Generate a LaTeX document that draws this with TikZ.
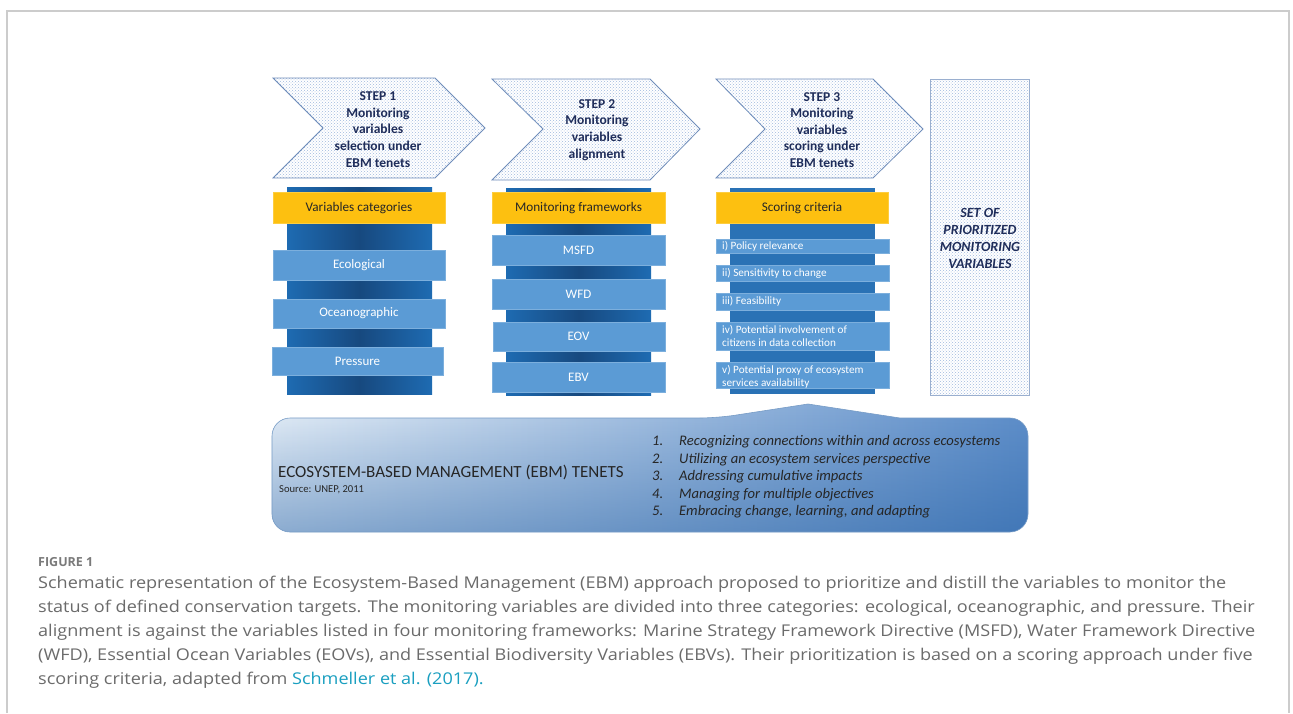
\documentclass[tikz,border=0pt]{standalone}
\usepackage{fontspec}
\setmainfont{Carlito}
\newfontfamily\capfont[FakeStretch=1.115]{Open Sans}
\newfontfamily\figfont{Open Sans}
\usetikzlibrary{patterns,fadings}
\definecolor{navy}{HTML}{1F2D5A}
\definecolor{gold}{HTML}{FDC010}
\definecolor{barblue}{HTML}{5B9BD5}
\definecolor{colblue}{HTML}{1E6BB2}
\definecolor{coldark}{HTML}{17497F}
\definecolor{col3blue}{HTML}{2A72B5}
\definecolor{dotblue}{HTML}{9FB9DE}
\definecolor{chevedge}{HTML}{6F8DBA}
\definecolor{capgray}{HTML}{6B6B6B}
\definecolor{linkteal}{HTML}{1A9FC0}
\definecolor{framegray}{HTML}{CCCCCC}
\definecolor{ebmlight}{HTML}{E6EFF8}
\definecolor{ebmmid}{HTML}{AEC8E6}
\definecolor{ebmright}{HTML}{5F8FCA}
\definecolor{ebmdark}{HTML}{1D5AA0}
\tikzfading[name=ebmfade, top color=transparent!100, bottom color=transparent!55]
\tikzset{
  chev/.style={preaction={fill=white}, pattern=crosshatch dots, pattern color=dotblue, draw=chevedge, line width=0.8pt},
  steptext/.style={align=center, text=navy, font=\bfseries\fontsize{13.5}{16.6}\selectfont, inner sep=0pt},
  head/.style={fill=gold, draw=gold!80!white, line width=0.5pt},
  headtext/.style={text=black!85, font=\fontsize{13.2}{16}\selectfont, inner sep=0pt},
  bar/.style={fill=barblue, draw=barblue!80!white, line width=0.6pt},
  bartext/.style={text=white, font=\fontsize{13}{15}\selectfont, inner sep=0pt},
  crittext/.style={text=white, font=\fontsize{11.2}{13.2}\selectfont, inner sep=0pt, align=left, anchor=west},
  listtext/.style={text=black!85, font=\itshape\fontsize{14.6}{16}\selectfont, inner sep=0pt, anchor=base west},
  captext/.style={text=capgray, font=\capfont\fontsize{16.2}{20}\selectfont, inner sep=0pt, anchor=base west},
}
\begin{document}
\begin{tikzpicture}[x=1pt,y=-1pt]
\useasboundingbox (0,0) rectangle (1293,713);
\fill[white] (0,0) rectangle (1293,713);
% frame
\draw[framegray, line width=1.2pt] (7,713) -- (7,11) -- (1289,11) -- (1289,713);

% chevrons
\path[chev] (273,78) -- (435,78) -- (485,128) -- (435,178) -- (273,178) -- (323,128) -- cycle;
\path[chev] (492,79) -- (650,79) -- (700,129) -- (650,180) -- (492,180) -- (543,129) -- cycle;
\path[chev] (716,79) -- (873,79) -- (923,129) -- (873,178) -- (716,178) -- (765,129) -- cycle;
\node[steptext] (s1) at (378,129.5) {STEP 1\\Monitoring\\variables\\selection under\\EBM tenets};
\node[steptext] (s2) at (597,130) {STEP 2\\Monitoring\\variables\\alignment};
\node[steptext] (s3) at (822,130) {STEP 3\\Monitoring\\variables\\scoring under\\EBM tenets};

% set box
\path[chev, draw=chevedge!70!white] (930,79) rectangle (1029,395);
\node[steptext, font=\bfseries\itshape\fontsize{14}{17}\selectfont] (set) at (980,238) {SET OF\\PRIORITIZED\\MONITORING\\VARIABLES};

% column backings
\shade[left color=colblue, right color=colblue, middle color=coldark] (287,187) rectangle (432,394);
\shade[left color=colblue, right color=colblue, middle color=coldark] (506,188) rectangle (651,395);
\fill[col3blue] (730,188) rectangle (875,394);

% column 1
\path[head] (273,192) rectangle (445,223);
\node[headtext] (h1) at (359,208) {Variables categories};
\path[bar] (273,250) rectangle (445,280);
\node[bartext] (eco) at (359,265) {Ecological};
\path[bar] (273,299) rectangle (445,328);
\node[bartext] (oce) at (359,313.5) {Oceanographic};
\path[bar] (272,347) rectangle (443,375);
\node[bartext] (pre) at (357.5,361) {Pressure};

% column 2
\path[head] (492,192) rectangle (665,223);
\node[headtext] (h2) at (578.5,208) {Monitoring frameworks};
\path[bar] (492,235) rectangle (665,265);
\node[bartext] (msfd) at (578.5,250) {MSFD};
\path[bar] (492,279) rectangle (665,309);
\node[bartext] (wfd) at (578.5,294) {WFD};
\path[bar] (493,322) rectangle (665,351);
\node[bartext] (eov) at (578.5,336.5) {EOV};
\path[bar] (492,362) rectangle (665,392);
\node[bartext] (ebv) at (578.5,377) {EBV};

% column 3
\path[head] (716,192) rectangle (888,223);
\node[headtext] (h3) at (802,208) {Scoring criteria};
\path[bar] (716,239) rectangle (889,253);
\node[crittext] (c1) at (722,246) {i) Policy relevance};
\path[bar] (716,265) rectangle (889,281);
\node[crittext] (c2) at (722,273) {ii) Sensitivity to change};
\path[bar] (716,293) rectangle (889,310);
\node[crittext] (c3) at (722,301.5) {iii) Feasibility};
\path[bar] (716,322) rectangle (889,350);
\node[crittext] (c4) at (722,336) {iv) Potential involvement of\\citizens in data collection};
\path[bar] (716,362) rectangle (889,388);
\node[crittext] (c5) at (722,376.5) {v) Potential proxy of ecosystem\\services availability};

% EBM box
\def\ebmpath{[rounded corners=18pt] (272,475) |- (717,418) [sharp corners] -- (808,404) -- (900,418)
  [rounded corners=18pt] -| (1028,475) |- (272,532) -- cycle}
\shade[left color=ebmlight, middle color=ebmmid, right color=ebmright] \ebmpath;
\fill[ebmdark, path fading=ebmfade] \ebmpath;
\draw[ebmdark!60!white, line width=0.6pt] \ebmpath;
\node[anchor=base west, inner sep=0pt, text=black!85, font=\fontsize{17}{18}\selectfont] (ebmt) at (278,477) {ECOSYSTEM-BASED MANAGEMENT (EBM) TENETS};
\node[anchor=base west, inner sep=0pt, text=black!85, font=\fontsize{10.6}{12}\selectfont] (src) at (279,492.5) {Source: UNEP, 2011};
\node[listtext] (n1) at (652,445.5) {1.};
\node[listtext] (l1) at (679,445.5) {Recognizing connections within and across ecosystems};
\node[listtext] (n2) at (652,463) {2.};
\node[listtext] (l2) at (679,463) {Utilizing an ecosystem services perspective};
\node[listtext] (n3) at (652,480.5) {3.};
\node[listtext] (l3) at (679,480.5) {Addressing cumulative impacts};
\node[listtext] (n4) at (652,498) {4.};
\node[listtext] (l4) at (679,498) {Managing for multiple objectives};
\node[listtext] (n5) at (652,515.5) {5.};
\node[listtext] (l5) at (679,515.5) {Embracing change, learning, and adapting};

% caption
\node[anchor=base west, inner sep=0pt, text=capgray!90!white, font=\figfont\bfseries\fontsize{12.5}{14}\selectfont] (fig) at (38,566) {FIGURE 1};
\node[captext] (cap1) at (38,588.5) {Schematic representation of the Ecosystem-Based Management (EBM) approach proposed to prioritize and distill the variables to monitor the};
\node[captext] (cap2) at (38,612.5) {status of defined conservation targets. The monitoring variables are divided into three categories: ecological, oceanographic, and pressure. Their};
\node[captext] (cap3) at (38,636.5) {alignment is against the variables listed in four monitoring frameworks: Marine Strategy Framework Directive (MSFD), Water Framework Directive};
\node[captext] (cap4) at (38,660.5) {(WFD), Essential Ocean Variables (EOVs), and Essential Biodiversity Variables (EBVs). Their prioritization is based on a scoring approach under five};
\node[captext] (cap5) at (38,684.5) {scoring criteria, adapted from \textcolor{linkteal}{Schmeller et al. (2017).}};
\end{tikzpicture}
\end{document}
